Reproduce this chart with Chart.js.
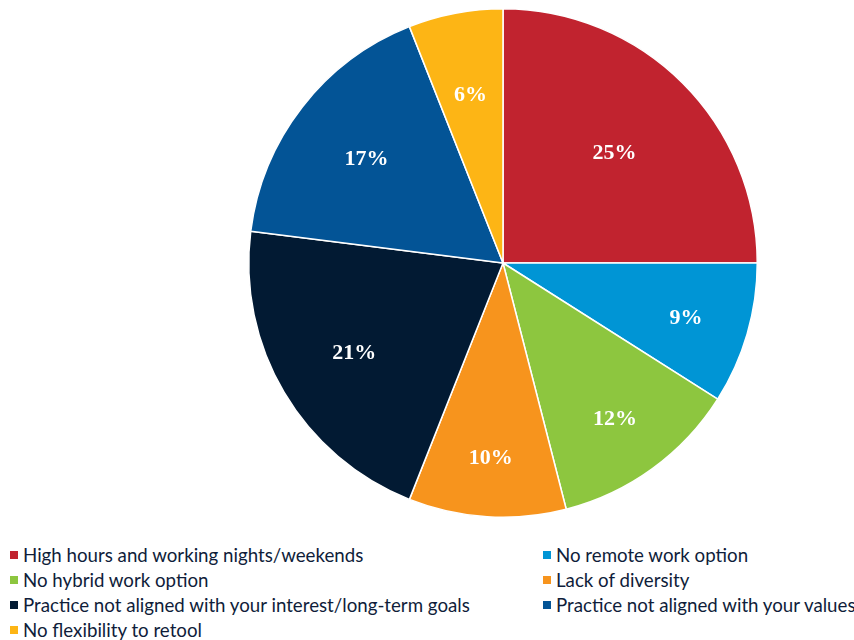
<!DOCTYPE html>
<html>
<head>
<meta charset="utf-8">
<script src="https://cdn.jsdelivr.net/npm/chart.js@4"></script>
<style>
  html, body { margin: 0; padding: 0; background: #fff; }
  #wrap { position: relative; width: 854px; height: 640px; overflow: hidden; }
  #pie { position: absolute; left: 0; top: 0; }
  #legend {
    position: absolute; left: 10px; top: 544px; width: 844px;
    display: grid; grid-template-columns: 533px 311px; row-gap: 3px;
    font-family: Lato, "Noto Sans", sans-serif; font-size: 18.7px; color: #0f1d3a;
  }
  .item { display: flex; align-items: center; height: 22px; white-space: nowrap; }
  .box { width: 8px; height: 8px; margin-right: 5px; flex: none; }
</style>
</head>
<body>
<div id="wrap">
  <canvas id="pie" width="854" height="530"></canvas>
  <div id="legend"></div>
</div>
<script>
const categories = [
  "High hours and working nights/weekends",
  "No remote work option",
  "No hybrid work option",
  "Lack of diversity",
  "Practice not aligned with your interest/long-term goals",
  "Practice not aligned with your values",
  "No flexibility to retool"
];
const shares = [25, 9, 12, 10, 21, 17, 6];
const colors = ["#c1232f", "#0095d5", "#8dc63f", "#f7941d", "#021a33", "#035496", "#fdb515"];

// label distance from centre, as a fraction of the radius
const labelRadius = [0.62, 0.75, 0.75, 0.76, 0.68, 0.68, 0.68];

const pctLabels = {
  id: "pctLabels",
  afterDatasetsDraw(chart) {
    const ctx = chart.ctx;
    const meta = chart.getDatasetMeta(0);
    ctx.save();
    ctx.fillStyle = "#fff";
    ctx.font = "bold 22px 'Liberation Serif', 'DejaVu Serif', serif";
    ctx.textAlign = "center";
    ctx.textBaseline = "middle";
    meta.data.forEach((arc, i) => {
      const p = arc.getProps(["x", "y", "startAngle", "endAngle", "outerRadius"], true);
      const mid = (p.startAngle + p.endAngle) / 2;
      const r = p.outerRadius * labelRadius[i];
      ctx.fillText(shares[i] + "%", p.x + Math.cos(mid) * r, p.y + Math.sin(mid) * r + 2);
    });
    ctx.restore();
  }
};

new Chart(document.getElementById("pie"), {
  type: "pie",
  data: {
    labels: categories,
    datasets: [{
      data: shares,
      backgroundColor: colors,
      borderColor: "#fff",
      borderWidth: 1.5
    }]
  },
  options: {
    responsive: false,
    animation: false,
    layout: { padding: { left: 248, right: 96, top: 8, bottom: 12 } },
    plugins: {
      legend: { display: false },
      tooltip: { enabled: false }
    }
  },
  plugins: [pctLabels]
});

// HTML legend, two columns
const legend = document.getElementById("legend");
categories.forEach((name, i) => {
  const item = document.createElement("div");
  item.className = "item";
  item.innerHTML = `<span class="box" style="background:${colors[i]}"></span><span>${name}</span>`;
  legend.appendChild(item);
});
</script>
</body>
</html>
